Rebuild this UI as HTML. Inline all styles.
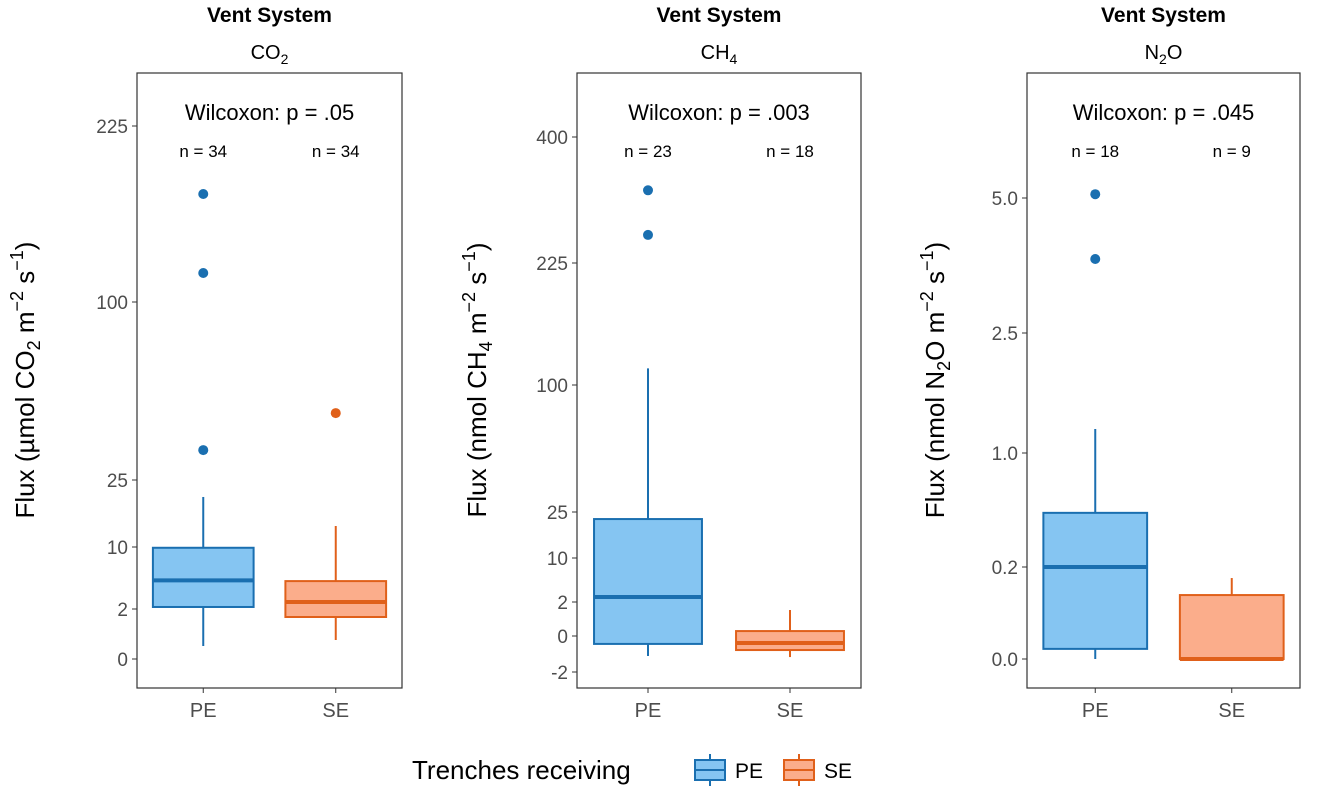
<!DOCTYPE html>
<html><head><meta charset="utf-8"><style>
body{margin:0;background:#fff;font-family:"Liberation Sans",Arial,sans-serif}
svg{display:block}
</style></head><body>
<svg id="chart" width="1318" height="788" font-family="Liberation Sans, Arial, sans-serif"></svg>
<script>
// ---- data ----
const groups = ["PE","SE"];
const panelTitles = ["CO2","CH4","N2O"];
const pValues = [".05",".003",".045"];
const nCO2 = [34,34], nCH4 = [23,18], nN2O = [18,9];
const ticksCO2 = [0,2,10,25,100,225];
const ticksCH4 = [-2,0,2,10,25,100,225,400];
const ticksN2O = [0.0,0.2,1.0,2.5,5.0];
const tickLabelsN2O = ["0.0","0.2","1.0","2.5","5.0"];
// box stats: [lowWhisker, q1, median, q3, highWhisker]
const boxCO2PE = [0.52,2.26,5.7,9.9,21.2], outCO2PE = [37.6,120.6,176.7];
const boxCO2SE = [0.76,1.68,2.9,5.6,14.7], outCO2SE = [53.2];
const boxCH4PE = [-1.11,-0.44,2.9,22.7,117], outCH4PE = [264,326];
const boxCH4SE = [-1.17,-0.78,-0.39,0.29,1.53], outCH4SE = [];
const boxN2OPE = [0,0.022,0.2,0.58,1.3], outN2OPE = [3.87,5.07];
const boxN2OSE = [0,0,0,0.139,0.176], outN2OSE = [];

// ---- axis calibration (pixel of each tick) ----
const calib = [
  {x0:137,x1:402,ticks:ticksCO2,px:[659,609,547,480,302,126]},
  {x0:577,x1:861,ticks:ticksCH4,px:[672,636,602,558,512,385,263,137]},
  {x0:1027,x1:1300,ticks:ticksN2O,px:[659,567,453,333,198]}
];
const panels = [
  {t:["CO","2",""],yt:["Flux (µmol CO","2"," m","−2"," s","−1",")"],n:nCO2,boxes:[boxCO2PE,boxCO2SE],outs:[outCO2PE,outCO2SE],labels:ticksCO2.map(String),ytx:25},
  {t:["CH","4",""],yt:["Flux (nmol CH","4"," m","−2"," s","−1",")"],n:nCH4,boxes:[boxCH4PE,boxCH4SE],outs:[outCH4PE,outCH4SE],labels:ticksCH4.map(String),ytx:477},
  {t:["N","2","O"],yt:["Flux (nmol N","2","O m","−2"," s","−1",")"],n:nN2O,boxes:[boxN2OPE,boxN2OSE],outs:[outN2OPE,outN2OSE],labels:tickLabelsN2O,ytx:935}
];
const fills=["#85C5F2","#FBAD8B"], strokes=["#1A6FB0","#E0601A"];
const NS="http://www.w3.org/2000/svg", svg=document.getElementById("chart");
function mk(tag,attrs,parent,txt){const e=document.createElementNS(NS,tag);for(const k in attrs)e.setAttribute(k,attrs[k]);if(txt!=null)e.textContent=txt;(parent||svg).appendChild(e);return e;}
function yScale(c,v){const t=c.ticks,p=c.px;let i=0;
  if(v<=t[0])i=0;else if(v>=t[t.length-1])i=t.length-2;else{while(!(v>=t[i]&&v<=t[i+1]))i++;}
  return p[i]+(v-t[i])/(t[i+1]-t[i])*(p[i+1]-p[i]);}
function xScale(c,g){const w=c.x1-c.x0;return c.x0+w*(0.25+0.5*g);}

panels.forEach((P,pi)=>{
  const c=calib[pi], cx=(c.x0+c.x1)/2, bw=(c.x1-c.x0)*0.38;
  const g=mk("g",{},svg);
  
  
  let e=mk("text",{x:cx,y:22,"text-anchor":"middle","font-size":21,"font-weight":"bold"},g,"Vent System");
   
  e=mk("text",{x:cx,y:59,"text-anchor":"middle","font-size":20},g);
   
  mk("tspan",{},e,P.t[0]); mk("tspan",{"font-size":14,dy:5},e,P.t[1]); mk("tspan",{dy:-5},e,P.t[2]);
  e=mk("rect",{x:c.x0,y:73,width:c.x1-c.x0,height:615,fill:"none",stroke:"#333","stroke-width":1.2},g);
   
  c.ticks.forEach((t,i)=>{const y=yScale(c,t);
    mk("line",{x1:c.x0-5,x2:c.x0,y1:y,y2:y,stroke:"#333"},g);
    const l=mk("text",{x:c.x0-9,y:y+7,"text-anchor":"end","font-size":19,fill:"#4d4d4d"},g,P.labels[i]);
     });
  const yt=mk("text",{transform:`translate(${P.ytx+9},${380}) rotate(-90)`,"text-anchor":"middle","font-size":26},g);
   
  P.yt.forEach((s,k)=>{const sp=mk("tspan",{},yt,s);
    if(k===1){sp.setAttribute("font-size",18);sp.setAttribute("dy",6);}
    if(k===2){sp.setAttribute("dy",-6);}
    if(k===3||k===5){sp.setAttribute("font-size",18);sp.setAttribute("dy",-11);}
    if(k===4||k===6){sp.setAttribute("dy",11);}});
  e=mk("text",{x:cx,y:120,"text-anchor":"middle","font-size":22},g,"Wilcoxon: p = "+pValues[pi]);
   
  groups.forEach((gr,gi)=>{
    const x=xScale(c,gi), b=P.boxes[gi];
    e=mk("text",{x:x,y:157,"text-anchor":"middle","font-size":17},g,"n = "+P.n[gi]);
     
    mk("line",{x1:x,x2:x,y1:688,y2:693,stroke:"#333"},g);
    e=mk("text",{x:x,y:717,"text-anchor":"middle","font-size":20,fill:"#4d4d4d"},g,gr);
     
    const bg=mk("g",{},g);
     
    mk("line",{x1:x,x2:x,y1:yScale(c,b[0]),y2:yScale(c,b[1]),stroke:strokes[gi],"stroke-width":2},bg);
    mk("line",{x1:x,x2:x,y1:yScale(c,b[3]),y2:yScale(c,b[4]),stroke:strokes[gi],"stroke-width":2},bg);
    const yq1=yScale(c,b[1]), yq3=yScale(c,b[3]);
    mk("rect",{x:x-bw/2,y:yq3,width:bw,height:Math.max(yq1-yq3,0.5),fill:fills[gi],stroke:strokes[gi],"stroke-width":2},bg);
    const ym=yScale(c,b[2]);
    mk("line",{x1:x-bw/2,x2:x+bw/2,y1:ym,y2:ym,stroke:strokes[gi],"stroke-width":4},bg);
    P.outs[gi].forEach(o=>{const d=mk("circle",{cx:x,cy:yScale(c,o),r:5,fill:strokes[gi]},bg);
       });
  });
});
const lg=mk("g",{},svg);
 
let t=mk("text",{x:412,y:779,"font-size":26},lg,"Trenches receiving");
 
[[693,"PE"],[782,"SE"]].forEach(([lx,lab],i)=>{
  const eg=mk("g",{},lg);
   
  mk("line",{x1:lx+17,x2:lx+17,y1:754,y2:786,stroke:strokes[i],"stroke-width":2},eg);
  mk("rect",{x:lx+2,y:760,width:30,height:20,fill:fills[i],stroke:strokes[i],"stroke-width":2},eg);
  mk("line",{x1:lx+2,x2:lx+32,y1:770,y2:770,stroke:strokes[i],"stroke-width":2},eg);
  mk("text",{x:lx+42,y:778,"font-size":21},eg,lab);
});
</script>
</body></html>
